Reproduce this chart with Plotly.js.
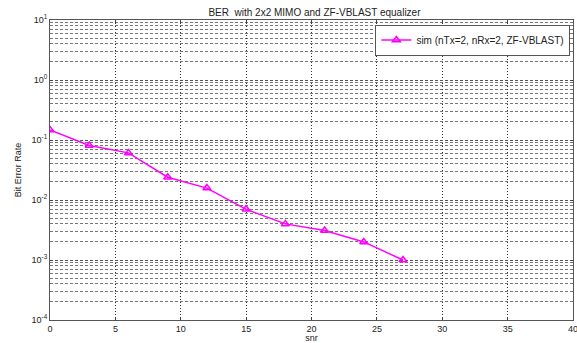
<!DOCTYPE html>
<html><head><meta charset="utf-8">
<script src="https://cdn.plot.ly/plotly-3.0.1.min.js"></script>
<style>body{margin:0;background:#fff}#c{width:577px;height:343px}</style>
</head><body><div id="c"></div>
<script>
const snr = [0, 3, 6, 9, 12, 15, 18, 21, 24, 27];
const ber = [0.147, 0.081, 0.061, 0.024, 0.0158, 0.007, 0.004, 0.0031, 0.002, 0.001];
const yTickVals = [1e-4, 1e-3, 1e-2, 1e-1, 1, 10];
const yTickText = ['10<sup>-4</sup>', '10<sup>-3</sup>', '10<sup>-2</sup>', '10<sup>-1</sup>', '10<sup>0</sup>', '10<sup>1</sup>'];
const xTickVals = [0, 5, 10, 15, 20, 25, 30, 35, 40];
const seriesName = 'sim (nTx=2, nRx=2, ZF-VBLAST)';

const trace = {
  x: snr, y: ber, type: 'scatter', mode: 'lines+markers', name: seriesName,
  line: {color: '#ff00ff', width: 1.5},
  marker: {symbol: 'triangle-up-open', size: 7, color: '#ff00ff', line: {width: 1.5, color: '#ff00ff'}}
};
const layout = {
  width: 577, height: 343,
  margin: {l: 50, r: 4, t: 20, b: 23},
  paper_bgcolor: '#fff', plot_bgcolor: '#fff',
  font: {family: 'Liberation Sans, Arial, sans-serif', size: 9, color: '#222'},
  title: {text: 'BER  with 2x2 MIMO and ZF-VBLAST equalizer', x: 0.545, xanchor: 'center', y: 0.975, yanchor: 'top', font: {size: 10, color: '#222'}},
  showlegend: true,
  legend: {x: 0.995, y: 0.985, xanchor: 'right', yanchor: 'top', bgcolor: '#fff', bordercolor: '#555', borderwidth: 1, font: {size: 10}, itemwidth: 30},
  xaxis: {
    range: [0, 40], tickvals: xTickVals, ticks: 'inside', ticklen: 3, tickcolor: '#444',
    ticklabeloverflow: 'allow',
    showline: true, linecolor: '#555', mirror: 'ticks', zeroline: false,
    showgrid: true, gridcolor: '#333', griddash: '1px,2px', gridwidth: 1,
    title: {text: 'snr', standoff: 2, font: {size: 9}}
  },
  yaxis: {
    type: 'log', range: [-4, 1], tickvals: yTickVals, ticktext: yTickText,
    ticks: 'inside', ticklen: 3, tickcolor: '#444',
    showline: true, linecolor: '#555', mirror: 'ticks', zeroline: false,
    showgrid: true, gridcolor: '#555', griddash: '3px,2px', gridwidth: 1,
    minor: {dtick: 'D1', showgrid: true, gridcolor: '#777', griddash: '3px,2px', ticks: ''},
    title: {text: 'Bit Error Rate', standoff: 8, font: {size: 9}}
  }
};
Plotly.newPlot('c', [trace], layout, {displayModeBar: false, staticPlot: true});
</script></body></html>
